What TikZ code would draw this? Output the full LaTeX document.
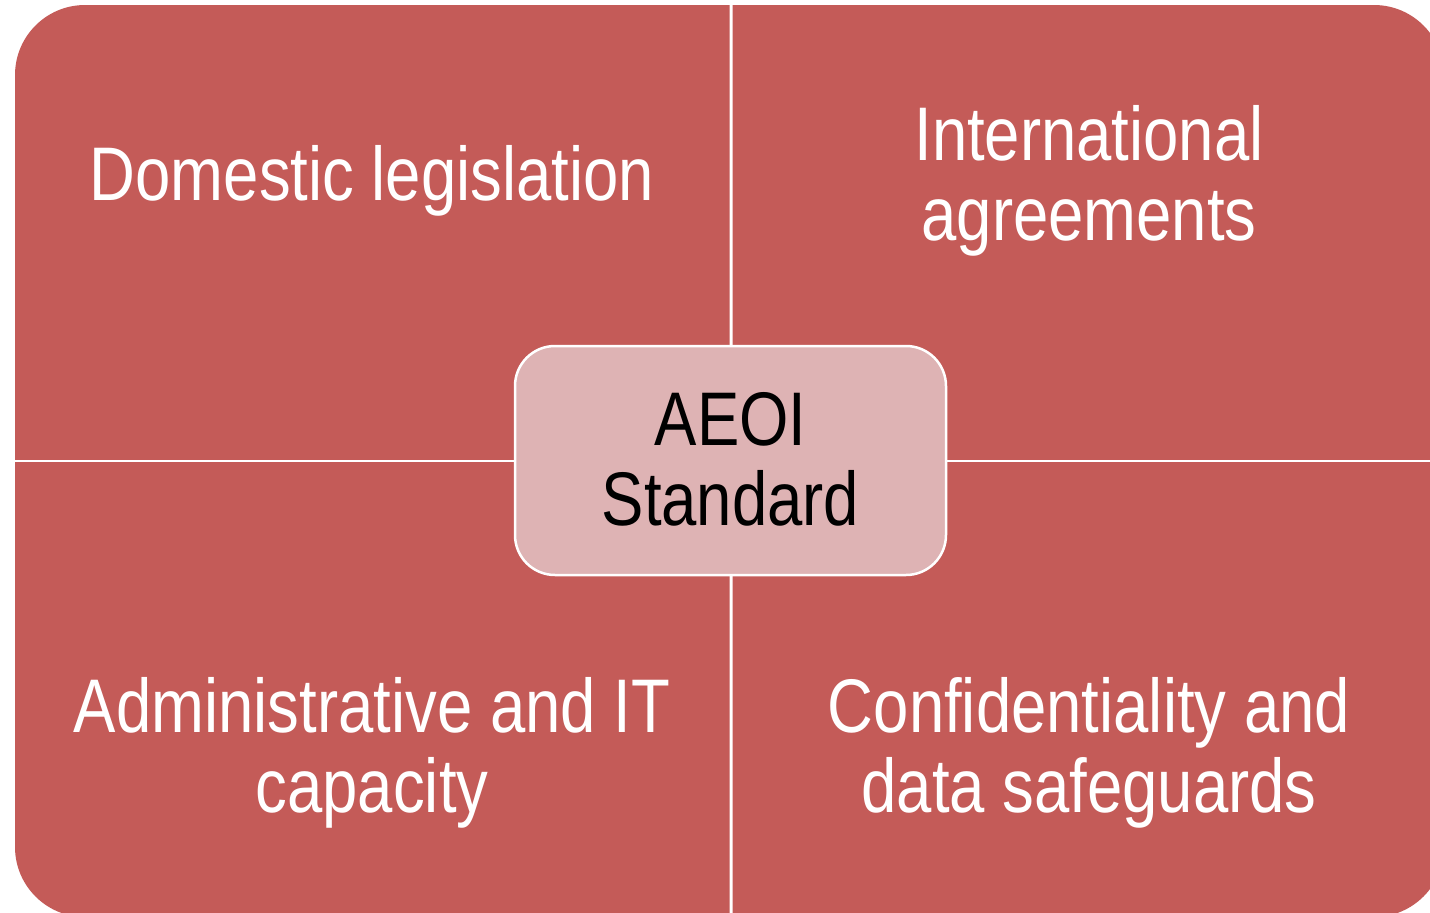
\documentclass[tikz,border=0pt]{standalone}
\usepackage{fontspec}
\setmainfont{Liberation Sans}[FakeStretch=0.835]
\definecolor{quadred}{RGB}{196,91,88}
\definecolor{corepink}{RGB}{222,179,180}
\begin{document}
\begin{tikzpicture}[x=1pt,y=-1pt,
  quadtext/.style={font=\fontsize{76}{80}\selectfont, text=white, align=center, inner sep=0pt, anchor=base},
  corebox/.style={draw=white, line width=2.5pt, fill=corepink, rounded corners=40pt,
    minimum width=431pt, minimum height=229pt, inner sep=0pt,
    font=\fontsize{76}{80}\selectfont, text=black, align=center},
  quadfill/.style={fill=quadred, rounded corners=70pt}
]
\useasboundingbox (0,0) rectangle (1430,913);
\clip (0,0) rectangle (1430,913);
% four quadrants
\begin{scope}
  \clip (0,0) rectangle (729.5,459.5);
  \fill[quadfill] (15,5) rectangle (1444,917);
\end{scope}
\begin{scope}
  \clip (732.5,0) rectangle (1460,459.5);
  \fill[quadfill] (15,5) rectangle (1444,917);
\end{scope}
\begin{scope}
  \clip (0,462.5) rectangle (729.5,930);
  \fill[quadfill] (15,5) rectangle (1444,917);
\end{scope}
\begin{scope}
  \clip (732.5,462.5) rectangle (1460,930);
  \fill[quadfill] (15,5) rectangle (1444,917);
\end{scope}
% quadrant texts (base anchor = baseline of last line)
\node[quadtext] (dom) at (372,200) {Domestic legislation};
\node[quadtext] (intl) at (1089,240) {International\\agreements};
\node[quadtext] (adm) at (372,812) {Administrative and IT\\capacity};
\node[quadtext] (conf) at (1089,812) {Confidentiality and\\data safeguards};
% centre
\node[corebox] (core) at (730.5,460.5) {};
\node[quadtext, text=black] (coretext) at (730.5,525) {AEOI\\Standard};
\end{tikzpicture}
\end{document}
